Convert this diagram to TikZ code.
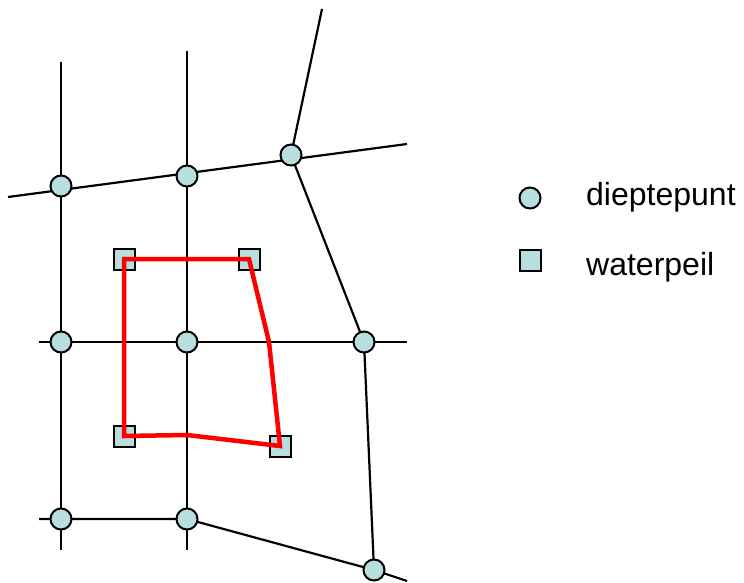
\documentclass[tikz,border=0pt]{standalone}
\usepackage{fontspec}
\setmainfont{Liberation Sans}
\usetikzlibrary{backgrounds}
\definecolor{ptfill}{RGB}{185,222,224}
\definecolor{redline}{RGB}{255,0,0}
\tikzset{
  dpt/.style={circle,draw=black,line width=2pt,fill=ptfill,minimum size=21pt,inner sep=0pt},
  wpl/.style={rectangle,draw=black,line width=2pt,fill=ptfill,minimum size=21pt,inner sep=0pt},
  gridline/.style={draw=black,line width=2.2pt},
  polyline/.style={draw=redline,line width=4.5pt,line join=miter},
  legendtext/.style={font=\fontsize{32}{38}\selectfont,anchor=base west,inner sep=0pt}
}
\begin{document}
\begin{tikzpicture}[x=1pt,y=-1pt]
\useasboundingbox (0,0) rectangle (744,583);
% free ends
\coordinate (e1) at (8,197);
\coordinate (e2) at (407,144);
\coordinate (e3) at (322,9);
\coordinate (v1t) at (61,62);
\coordinate (v2t) at (187,51);
\coordinate (v1b) at (61,550);
\coordinate (v2b) at (187,550);
\coordinate (m1) at (39,342);
\coordinate (m2) at (407,342);
\coordinate (b1) at (39,519);
\coordinate (b2) at (407,581);
\coordinate (r1) at (269,342);
\coordinate (r2) at (187,435);
% grid points
\node[dpt] (n1) at (61,186) {};
\node[dpt] (n2) at (187,176) {};
\node[dpt] (n3) at (291,155) {};
\node[dpt] (n4) at (61,342) {};
\node[dpt] (n5) at (187,342) {};
\node[dpt] (n6) at (364,342) {};
\node[dpt] (n7) at (61,519) {};
\node[dpt] (n8) at (187,519) {};
\node[dpt] (n9) at (374,570) {};
% water level points
\node[wpl] (s1) at (124,259) {};
\node[wpl] (s2) at (249,259) {};
\node[wpl] (s3) at (124,436) {};
\node[wpl] (s4) at (280,446) {};
% red polygon
\draw[polyline] (s1.center) -- (s2.center) -- (r1) -- (s4.center) -- (r2) -- (s3.center) -- cycle;
\begin{pgfonlayer}{background}
\draw[gridline] (e1) -- (e2);
\draw[gridline] (e3) -- (n3.center) -- (n6.center) -- (n9.center);
\draw[gridline] (v1t) -- (v1b);
\draw[gridline] (v2t) -- (v2b);
\draw[gridline] (m1) -- (m2);
\draw[gridline] (b1) -- (n8.center) -- (n9.center) -- (b2);
\end{pgfonlayer}
% legend
\node[dpt] (l1) at (530,198) {};
\node[wpl] (l2) at (530,260) {};
\node[legendtext] (t1) at (586,205) {dieptepunt};
\node[legendtext] (t2) at (586,275) {waterpeil};
\end{tikzpicture}
\end{document}
